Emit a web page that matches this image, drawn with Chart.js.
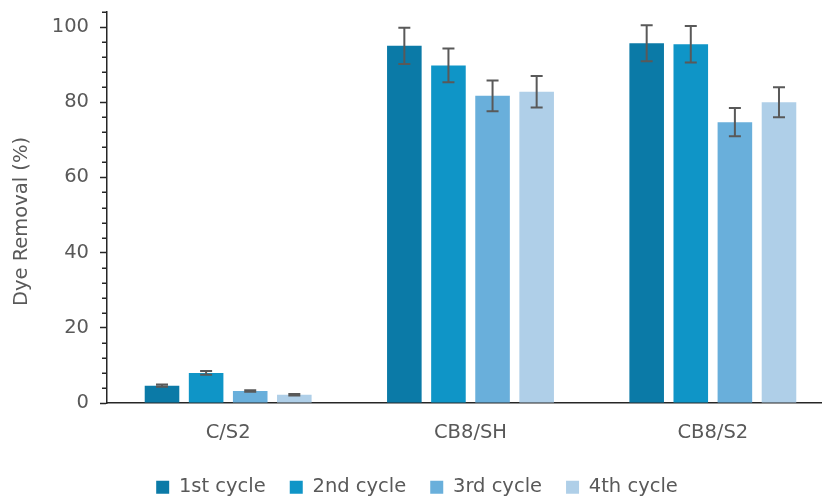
<!DOCTYPE html>
<html>
<head>
<meta charset="utf-8">
<script src="https://cdn.jsdelivr.net/npm/chart.js@4.4.1/dist/chart.umd.min.js"></script>
<style>
  html, body { margin: 0; padding: 0; overflow: hidden; background: #ffffff; }
  #wrap { width: 834px; height: 501px; position: relative; }
</style>
</head>
<body>
<div id="wrap"><canvas id="chart" width="834" height="501"></canvas></div>
<script>
// Dye removal over four regeneration cycles for each adsorbent
const categories = ['C/S2', 'CB8/SH', 'CB8/S2'];
const cycleNames = ['1st cycle', '2nd cycle', '3rd cycle', '4th cycle'];

const cycle1 = [4.6, 95.0, 95.7];
const cycle2 = [8.0, 89.8, 95.4];
const cycle3 = [3.2, 81.7, 74.7];
const cycle4 = [2.2, 82.8, 80.0];

// standard deviations
const err1 = [0.3, 4.8, 4.8];
const err2 = [0.5, 4.5, 4.85];
const err3 = [0.2, 4.1, 3.75];
const err4 = [0.2, 4.2, 4.0];

const yTicks = [0, 20, 40, 60, 80, 100];
const yMinorStep = 4;
const yMax = 104;

const cycleColors = ['#0b7aa7', '#0f95c7', '#69afdb', '#afcfe8'];
const seriesValues = [cycle1, cycle2, cycle3, cycle4];
const seriesErrors = [err1, err2, err3, err4];

const textColor = '#595959';
const axisColor = '#262626';
const fontSpec = { family: 'DejaVu Sans', size: 19.5 };

// Error bars drawn from each bar's value and its deviation
const errorBars = {
  id: 'errorBars',
  afterDatasetsDraw(chart) {
    const ctx = chart.ctx;
    const y = chart.scales.y;
    ctx.save();
    ctx.strokeStyle = '#595959';
    ctx.lineWidth = 2;
    chart.data.datasets.forEach((ds, i) => {
      const meta = chart.getDatasetMeta(i);
      meta.data.forEach((bar, j) => {
        const v = ds.data[j];
        const e = seriesErrors[i][j];
        const yt = y.getPixelForValue(v + e);
        const yb = y.getPixelForValue(v - e);
        const half = 6;
        ctx.beginPath();
        ctx.moveTo(bar.x, yt); ctx.lineTo(bar.x, yb);
        ctx.moveTo(bar.x - half, yt); ctx.lineTo(bar.x + half, yt);
        ctx.moveTo(bar.x - half, yb); ctx.lineTo(bar.x + half, yb);
        ctx.stroke();
      });
    });
    ctx.restore();
  }
};

// Minor tick marks on the value axis and the rotated axis title
const axisExtras = {
  id: 'axisExtras',
  afterDraw(chart) {
    const ctx = chart.ctx;
    const y = chart.scales.y;
    const left = chart.chartArea.left;
    ctx.save();
    ctx.strokeStyle = axisColor;
    ctx.lineWidth = 1.5;
    for (let v = yMinorStep; v <= yMax; v += yMinorStep) {
      if (yTicks.includes(v)) continue;
      const py = Math.round(y.getPixelForValue(v)) + 0.25;
      ctx.beginPath();
      ctx.moveTo(left - 5, py);
      ctx.lineTo(left, py);
      ctx.stroke();
    }
    const cy = (chart.chartArea.top + chart.chartArea.bottom) / 2 + 14;
    ctx.translate(22, cy);
    ctx.rotate(-Math.PI / 2);
    ctx.fillStyle = textColor;
    ctx.font = `${fontSpec.size}px "${fontSpec.family}"`;
    ctx.textAlign = 'center';
    ctx.textBaseline = 'middle';
    ctx.fillText('Dye Removal (%)', 0, 0);
    ctx.restore();
  }
};

new Chart(document.getElementById('chart'), {
  type: 'bar',
  data: {
    labels: categories,
    datasets: seriesValues.map((vals, i) => ({
      label: cycleNames[i],
      data: vals,
      backgroundColor: cycleColors[i],
      borderWidth: 0,
      barPercentage: 0.784,
      categoryPercentage: 0.728
    }))
  },
  options: {
    responsive: false,
    animation: false,
    devicePixelRatio: 1,
    layout: { padding: { top: 12, right: 0, bottom: -6, left: 0 } },
    plugins: {
      tooltip: { enabled: false },
      legend: {
        position: 'bottom',
        labels: {
          color: textColor,
          font: fontSpec,
          boxWidth: 13,
          boxHeight: 13,
          padding: 24
        }
      }
    },
    scales: {
      x: {
        grid: { display: false, drawTicks: false },
        border: { color: axisColor, width: 1.5 },
        ticks: { color: textColor, font: fontSpec, padding: 18 },
        afterFit: s => { s.height = 50.5; }
      },
      y: {
        min: 0,
        max: yMax,
        ticks: { stepSize: 20, color: textColor, font: fontSpec, padding: 11 },
        afterBuildTicks: s => { s.ticks = yTicks.map(v => ({ value: v })); },
        afterFit: s => { s.width = 107; s.paddingTop = 0; s.paddingBottom = 0; },
        grid: { drawOnChartArea: false, drawTicks: true, tickLength: 7, tickColor: axisColor, tickWidth: 1.5 },
        border: { color: axisColor, width: 1.5 }
      }
    }
  },
  plugins: [errorBars, axisExtras]
});
</script>
</body>
</html>
